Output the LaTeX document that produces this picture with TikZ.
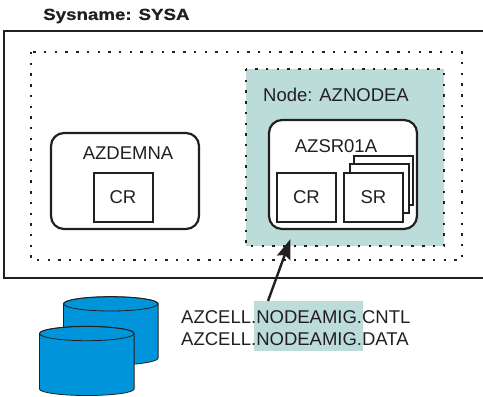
\documentclass[tikz,border=0pt]{standalone}
\usepackage{fontspec}
\setmainfont{Liberation Sans}
\usetikzlibrary{arrows.meta,positioning}
\definecolor{nodeteal}{HTML}{BBDCD8}
\definecolor{dasdblue}{HTML}{0095DA}
\definecolor{inkblack}{HTML}{231F20}
\tikzset{
  every node/.style={text=inkblack, font=\fontsize{18.5}{21}\selectfont},
  plain/.style={inner sep=0pt},
  dotbox/.style={draw=inkblack, line width=2.4pt, dash pattern=on 2.4pt off 8.3pt},
  server/.style={draw=inkblack, line width=2.2pt, fill=white, rounded corners=13pt},
  region/.style={draw=inkblack, line width=2pt, fill=white, minimum width=59pt, minimum height=49pt, inner sep=0pt},
  dasd/.style={draw=inkblack, line width=0.8pt, fill=dasdblue}
}
\begin{document}
\begin{tikzpicture}[x=1pt,y=-1pt]
\useasboundingbox (0,0) rectangle (483,397);
\node (S) [plain, anchor=west] at (43,16) {\fontsize{16}{18}\bfseries\selectfont\addfontfeature{FakeStretch=1.17,FakeBold=0.7}Sysname: SYSA};

\draw[inkblack, line width=2.2pt] (483,31) -- (4,31) -- (4,278) -- (483,278);
\draw[dotbox] (31,52) rectangle (462,260);

\fill[nodeteal] (246,69) rectangle (444,246);
\draw[dotbox] (246,69) rectangle (444,246);
\node (N) [plain, anchor=west] at (263,95) {Node: AZNODEA};

% left server
\node (D) [server, minimum width=148pt, minimum height=96pt] at (125,181) {};
\node (DT) [plain] at (128,153) {AZDEMNA};
\node (DC) [region] at (123,197) {CR};

% right server
\node (A) [server, minimum width=148pt, minimum height=109pt] at (343,174.5) {};
\node (AT) [plain] at (336,146) {AZSR01A};
\node (AC) [region] at (306.5,197) {CR};
\node (R3) [region] at (383.5,180) {};
\node (R2) [region, xshift=-4.5pt, yshift=-8.5pt] at (R3) {};
\node (R1) [region, xshift=-5.5pt, yshift=-8.5pt] at (R2) {SR};

% data sets
\node (H) [fill=nodeteal, minimum width=109pt, minimum height=50pt, inner sep=0pt] at (308.5,325.7) {};
\node (L1) [plain, anchor=west] at (181,317.5) {AZCELL.NODEAMIG.CNTL};
\node (L2) [plain, anchor=west] at (181,339) {AZCELL.NODEAMIG.DATA};

\coordinate (T) at (290.5,239);
\coordinate (F) at (268,301);
\draw[-{Stealth[length=20pt,width=14pt,inset=3pt]}, inkblack, line width=2.4pt] (F) -- (T);

% disks
\draw[dasd] (63.5,303.8) -- (63.5,358) arc[start angle=180, end angle=360, x radius=47.3pt, y radius=7pt] -- (158.1,303.8) arc[start angle=0, end angle=180, x radius=47.3pt, y radius=7pt] -- cycle;
\draw[inkblack, line width=0.8pt] (110.8,303.8) ellipse [x radius=47.3pt, y radius=7.2pt];
\draw[dasd] (39.5,333.5) -- (39.5,389) arc[start angle=180, end angle=360, x radius=47.3pt, y radius=6.5pt] -- (134.1,333.5) arc[start angle=0, end angle=180, x radius=47.3pt, y radius=7pt] -- cycle;
\draw[inkblack, line width=0.8pt] (86.8,333.5) ellipse [x radius=47.3pt, y radius=7.2pt];
\end{tikzpicture}
\end{document}
